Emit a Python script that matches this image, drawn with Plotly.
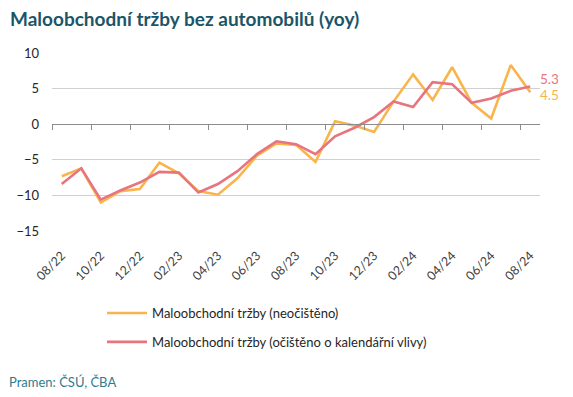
import plotly.graph_objects as go

months = ["08/22", "09/22", "10/22", "11/22", "12/22", "01/23", "02/23", "03/23", "04/23",
          "05/23", "06/23", "07/23", "08/23", "09/23", "10/23", "11/23", "12/23", "01/24",
          "02/24", "03/24", "04/24", "05/24", "06/24", "07/24", "08/24"]
neocisteno = [-7.3, -6.2, -11.0, -9.4, -9.1, -5.4, -6.9, -9.4, -9.9, -7.6, -4.4, -2.7, -2.9,
              -5.3, 0.4, -0.2, -1.1, 3.2, 7.0, 3.4, 8.0, 3.0, 0.8, 8.3, 4.5]
ocisteno = [-8.4, -6.2, -10.6, -9.3, -8.2, -6.7, -6.8, -9.6, -8.4, -6.6, -4.2, -2.4, -2.8,
            -4.2, -1.7, -0.5, 1.0, 3.2, 2.4, 5.9, 5.6, 3.0, 3.6, 4.7, 5.3]
y_ticks = [-15, -10, -5, 0, 5, 10]

name_a = "Maloobchodní tržby (neočištěno)"
name_b = "Maloobchodní tržby (očištěno o kalendářní vlivy)"
c_orange = "#F9B54C"
c_red = "#E8747E"
font = "Lato"

idx = list(range(len(months)))
ymin, ymax = y_ticks[0], y_ticks[-1]

fig = go.Figure()
fig.add_trace(go.Scatter(x=idx, y=neocisteno, mode="lines", name=name_a, legendgroup="a",
                         line=dict(color=c_orange, width=2.6)))
fig.add_trace(go.Scatter(x=idx, y=ocisteno, mode="lines", name=name_b, legendgroup="b",
                         line=dict(color=c_red, width=2.6)))
# helper trace so the zero-line axis is drawn
fig.add_trace(go.Scatter(x=idx, y=ocisteno, mode="lines", xaxis="x2", showlegend=False,
                         line=dict(width=0), opacity=0, hoverinfo="skip"))

fig.add_annotation(x=idx[-1], y=ocisteno[-1], text=f"{ocisteno[-1]:.1f}", showarrow=False,
                   xanchor="left", yanchor="middle", xshift=8, yshift=7,
                   font=dict(family=font, size=13.5, color=c_red))
fig.add_annotation(x=idx[-1], y=neocisteno[-1], text=f"{neocisteno[-1]:.1f}", showarrow=False,
                   xanchor="left", yanchor="middle", xshift=8, yshift=-3,
                   font=dict(family=font, size=13.5, color=c_orange))

fig.add_annotation(xref="paper", yref="paper", x=-44/488, y=(397 - 18 - 166) / 178,
                   text="<b>Maloobchodní tržby bez automobilů (yoy)</b>", showarrow=False,
                   xanchor="left", yanchor="middle",
                   font=dict(family=font, size=19, color="#1B5568"))
fig.add_annotation(xref="paper", yref="paper", x=-45/488, y=-(382 - 231) / 178,
                   text="Pramen: ČSÚ, ČBA", showarrow=False,
                   xanchor="left", yanchor="middle",
                   font=dict(family=font, size=13, color="#2F7C8E"))

fig.update_layout(
    width=573, height=397,
    margin=dict(l=52, r=33, t=53, b=166, autoexpand=False),
    paper_bgcolor="white", plot_bgcolor="white",
    font=dict(family=font, size=13, color="#262626"),
    showlegend=True,
    legend=dict(x=(102 - 52) / 488, y=-(298 - 231) / 178, xanchor="left", yanchor="top",
                font=dict(family=font, size=13, color="#262626"),
                tracegroupgap=9, itemwidth=40, bgcolor="rgba(0,0,0,0)"),
    xaxis=dict(range=[-0.5, len(months) - 0.5], tickmode="array",
               tickvals=idx[::2], ticktext=months[::2], tickangle=-45,
               showgrid=False, showline=False, zeroline=False, ticks="",
               ticklabelstandoff=14,
               tickfont=dict(family=font, size=12.5, color="#404040")),
    xaxis2=dict(range=[-0.5, len(months) - 0.5], overlaying="x", anchor="free",
                position=(0 - ymin) / (ymax - ymin), side="bottom",
                tickmode="array", tickvals=[i - 0.5 for i in idx[::2]],
                ticks="outside", ticklen=5, tickwidth=1, tickcolor="#8C8C8C",
                showline=True, linecolor="#8C8C8C", linewidth=1,
                showticklabels=False, showgrid=False, zeroline=False),
    yaxis=dict(range=[ymin, ymax], tickmode="array", tickvals=y_ticks,
               showgrid=True, gridcolor="#D0D0D0", gridwidth=1, zeroline=False,
               showline=False, ticks="", ticklabelstandoff=12,
               tickfont=dict(family=font, size=13, color="#262626")),
)

fig.write_html("out.html", config={"displayModeBar": False},
               post_script="document.body.style.margin='0';document.body.style.overflow='hidden';")
